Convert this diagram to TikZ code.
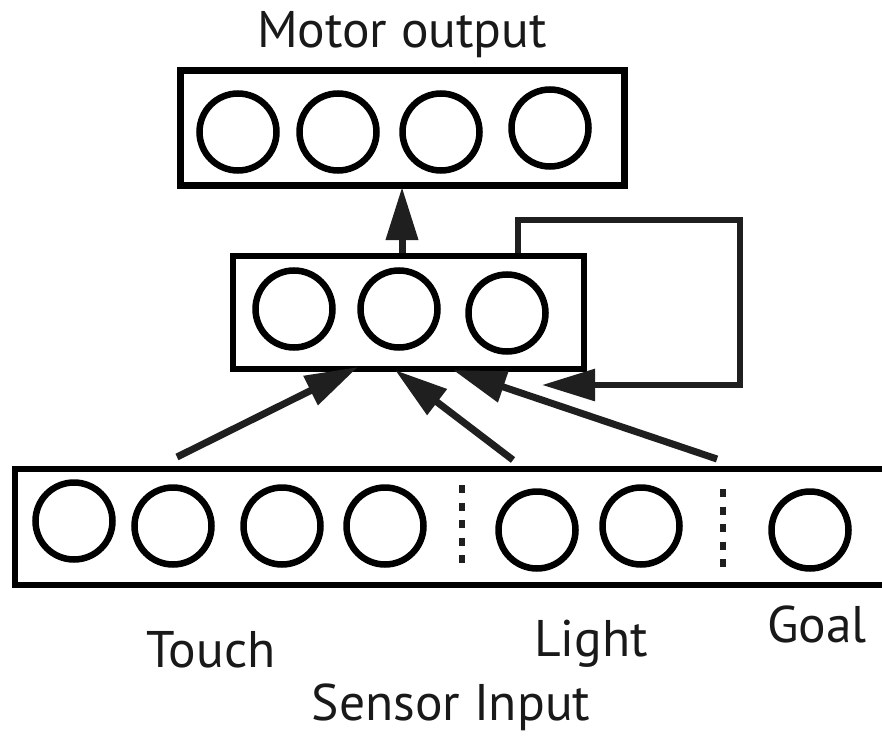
\documentclass[tikz,border=0pt]{standalone}
\usepackage{fontspec}
\setmainfont{PT Sans}
\usetikzlibrary{arrows.meta}
\begin{document}
\begin{tikzpicture}[x=1pt,y=-1pt,
  layerbox/.style={draw=black, line width=6.5pt, inner sep=0pt, outer sep=0pt, rectangle},
  unit/.style={draw=black, line width=6.5pt, circle, inner sep=0pt, outer sep=0pt, minimum size=77pt},
  lbl/.style={font=\fontsize{51.5}{55}\selectfont, inner sep=0pt, anchor=base, text=black!90},
  conn/.style={draw=black!88, line width=7pt, -{Triangle[length=53pt,width=31pt]}},
  sep/.style={draw=black!88, line width=6.5pt, dash pattern=on 8pt off 9.5pt}]
\useasboundingbox (0,0) rectangle (882,738);
\clip (0,0) rectangle (882,738);
\fill[white] (0,0) rectangle (882,738);

% layers
\node[layerbox, minimum width=444pt, minimum height=115pt] (top) at (402.5,128) {};
\node[layerbox, minimum width=351pt, minimum height=113pt] (mid) at (408.5,312.5) {};
\node[layerbox, minimum width=900pt, minimum height=116pt] (bot) at (465,527) {};

% top units
\node[unit] (t1) at (238,132) {};
\node[unit] (t2) at (338,132) {};
\node[unit] (t3) at (441,132) {};
\node[unit] (t4) at (550,128) {};

% middle units
\node[unit] (m1) at (294,309) {};
\node[unit] (m2) at (399,309) {};
\node[unit] (m3) at (507,313) {};

% bottom units
\node[unit] (b1) at (74,521) {};
\node[unit] (b2) at (173,526) {};
\node[unit] (b3) at (282,526) {};
\node[unit] (b4) at (385,526) {};
\node[unit] (b5) at (537,530) {};
\node[unit] (b6) at (641,526) {};
\node[unit] (b7) at (810,530) {};

% separators
\coordinate (d1a) at (462,485);
\coordinate (d1b) at (462,563);
\coordinate (d2a) at (723,489);
\coordinate (d2b) at (723,567);
\draw[sep] (d1a) -- (d1b);
\draw[sep] (d2a) -- (d2b);

% connectors
\coordinate (upS) at (402,253);
\coordinate (upE) at (402,187);
\draw[conn] (upS) -- (upE);

\coordinate (s1) at (177,457);
\coordinate (e1) at (358,367);
\coordinate (s2) at (513,460);
\coordinate (e2) at (395,370);
\coordinate (s3) at (717,459);
\coordinate (e3) at (453,370);
\draw[conn] (s1) -- (e1);
\draw[conn] (s2) -- (e2);
\draw[conn] (s3) -- (e3);

\coordinate (lpS) at (518,253);
\coordinate (lpE) at (542,385);
\draw[conn, line width=6pt] (lpS) -- (518,220) -- (740,220) -- (740,385) -- (lpE);

% labels
\node[lbl] (lmotor) at (402,48) {Motor output};
\node[lbl] (ltouch) at (211,667) {Touch};
\node[lbl] (llight) at (591,656) {Light};
\node[lbl] (lgoal) at (817,642) {Goal};
\node[lbl] (lsensor) at (451,720) {Sensor Input};
\end{tikzpicture}
\end{document}
